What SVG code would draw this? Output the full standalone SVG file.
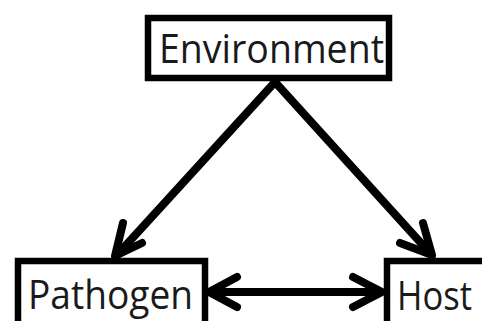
<svg xmlns="http://www.w3.org/2000/svg" width="482" height="321" viewBox="0 0 482 321">
<style>
.box{fill:#fff;stroke:#000;stroke-width:6.5}
.lbl{font-family:"Open Sans","Noto Sans","Liberation Sans",sans-serif;font-size:41px;fill:#1a1a1a}
.con{fill:none;stroke:#000;stroke-width:8;stroke-linecap:round;stroke-linejoin:round}
</style>
<rect width="482" height="321" fill="#fff"/>
<g id="connectors">
<line class="con" x1="275" y1="82" x2="117" y2="255"/>
<polyline class="con" points="123,223 115,256 142,243"/>
<line class="con" x1="275" y1="82" x2="430" y2="253"/>
<polyline class="con" points="423,223 432,255 400,243"/>
<line class="con" x1="211" y1="292" x2="380" y2="292"/>
<polyline class="con" points="237,277 209,292 237,307"/>
<polyline class="con" points="353,277 382,292 353,307"/>
</g>
<g id="environment">
<rect class="box" x="148" y="18" width="241" height="60"/>
<text class="lbl" x="159" y="63" textLength="225" lengthAdjust="spacingAndGlyphs">Environment</text>
</g>
<g id="pathogen">
<rect class="box" x="18" y="261" width="187" height="80"/>
<text class="lbl" x="28" y="309" textLength="165" lengthAdjust="spacingAndGlyphs">Pathogen</text>
</g>
<g id="host">
<rect class="box" x="387" y="261" width="102" height="80"/>
<text class="lbl" x="397" y="310" textLength="75" lengthAdjust="spacingAndGlyphs">Host</text>
</g>
</svg>
